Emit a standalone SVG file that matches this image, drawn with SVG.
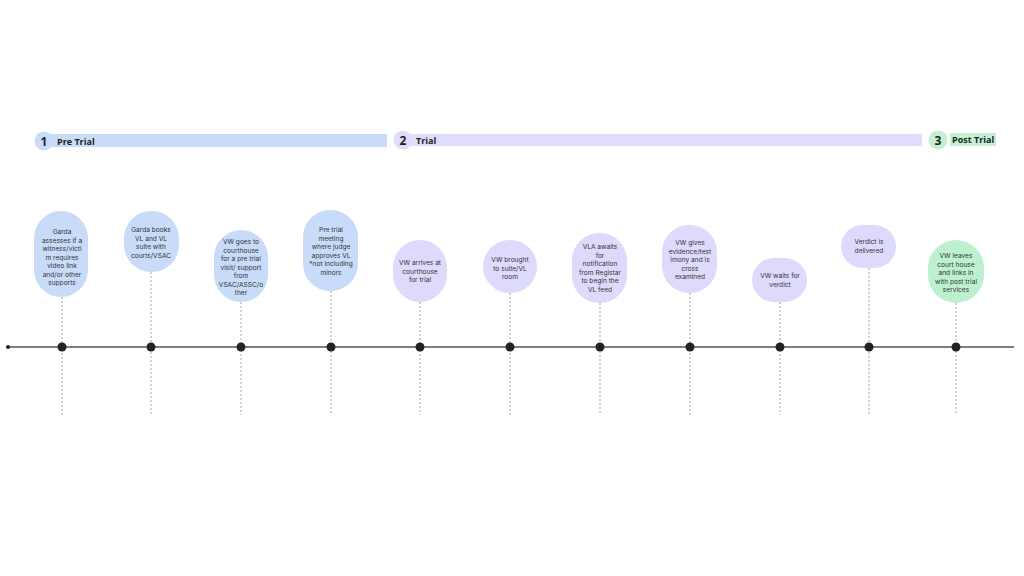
<svg xmlns="http://www.w3.org/2000/svg" width="1024" height="576" viewBox="0 0 1024 576">
<style>
.nb{fill:#c8dcf9}
.np{fill:#dedafb}
.ng{fill:#bdf0cf}
.t{font-family:Inter,"Noto Sans",sans-serif;font-size:6.6px;fill:#333;text-anchor:middle}
.h{font-family:"Open Sans","Noto Sans",sans-serif;font-weight:bold;fill:#222}
.dash{stroke:#9a9a9a;stroke-width:0.9;stroke-dasharray:2 2;fill:none}
.dot{fill:#222}
</style>
<rect width="1024" height="576" fill="#fff"/>
<g id="phases">
<g id="phase1">
<rect x="46" y="134" width="341" height="13" fill="#c8dcf9"/>
<circle cx="44" cy="141" r="9.5" fill="#c8dcf9"/>
<text class="h" x="44" y="145.5" font-size="12" text-anchor="middle">1</text>
<text class="h" x="57" y="144.5" font-size="9">Pre Trial</text>
</g>
<g id="phase2">
<rect x="404" y="134" width="518" height="12" fill="#e0dcfb"/>
<circle cx="403" cy="140" r="9.5" fill="#e0dcfb"/>
<text class="h" x="403" y="144.5" font-size="12" text-anchor="middle">2</text>
<text class="h" x="416" y="143.5" font-size="9">Trial</text>
</g>
<g id="phase3">
<rect x="950" y="133" width="46" height="13" fill="#c3f0d3"/>
<circle cx="938" cy="140" r="9.5" fill="#c3f0d3"/>
<text class="h" x="938" y="144.5" font-size="12" text-anchor="middle">3</text>
<text class="h" x="952" y="143" font-size="9">Post Trial</text>
</g>
</g>
<g id="connectors">
<line x1="8" y1="347" x2="1014" y2="347" stroke="#555" stroke-width="1.4"/>
<circle cx="8" cy="347" r="2" class="dot"/>
<line class="dash" x1="62" y1="297" x2="62" y2="415"/>
<line class="dash" x1="151" y1="272" x2="151" y2="415"/>
<line class="dash" x1="241" y1="302" x2="241" y2="415"/>
<line class="dash" x1="331" y1="291" x2="331" y2="415"/>
<line class="dash" x1="420" y1="302" x2="420" y2="415"/>
<line class="dash" x1="510" y1="293" x2="510" y2="415"/>
<line class="dash" x1="600" y1="303" x2="600" y2="415"/>
<line class="dash" x1="690" y1="293" x2="690" y2="415"/>
<line class="dash" x1="780" y1="302" x2="780" y2="415"/>
<line class="dash" x1="869" y1="268" x2="869" y2="415"/>
<line class="dash" x1="956" y1="303" x2="956" y2="415"/>
<circle cx="62" cy="347" r="4.5" class="dot"/>
<circle cx="151" cy="347" r="4.5" class="dot"/>
<circle cx="241" cy="347" r="4.5" class="dot"/>
<circle cx="331" cy="347" r="4.5" class="dot"/>
<circle cx="420" cy="347" r="4.5" class="dot"/>
<circle cx="510" cy="347" r="4.5" class="dot"/>
<circle cx="600" cy="347" r="4.5" class="dot"/>
<circle cx="690" cy="347" r="4.5" class="dot"/>
<circle cx="780" cy="347" r="4.5" class="dot"/>
<circle cx="869" cy="347" r="4.5" class="dot"/>
<circle cx="956" cy="347" r="4.5" class="dot"/>
</g>
<g id="n1">
<rect class="nb" x="34" y="211" width="54" height="86" rx="27"/>
<text class="t"><tspan x="62" y="234">Garda</tspan><tspan x="62" y="242.5">assesses if a</tspan><tspan x="62" y="251">witness/victi</tspan><tspan x="62" y="259.5">m requires</tspan><tspan x="62" y="268">video link</tspan><tspan x="62" y="276.5">and/or other</tspan><tspan x="62" y="285">supports</tspan></text>
</g>
<g id="n2">
<rect class="nb" x="124" y="211" width="55" height="61" rx="27"/>
<text class="t"><tspan x="151" y="232">Garda books</tspan><tspan x="151" y="240.5">VL and VL</tspan><tspan x="151" y="249">suite with</tspan><tspan x="151" y="257.5">courts/VSAC</tspan></text>
</g>
<g id="n3">
<rect class="nb" x="214" y="230" width="54" height="72" rx="27"/>
<text class="t"><tspan x="241" y="244">VW goes to</tspan><tspan x="241" y="252.5">courthouse</tspan><tspan x="241" y="261">for a pre trial</tspan><tspan x="241" y="269.5">visit/ support</tspan><tspan x="241" y="278">from</tspan><tspan x="241" y="286.5">VSAC/ASSC/o</tspan><tspan x="241" y="295">ther</tspan></text>
</g>
<g id="n4">
<rect class="nb" x="303" y="210" width="55" height="81" rx="27"/>
<text class="t"><tspan x="331" y="232">Pre trial</tspan><tspan x="331" y="240.5">meeting</tspan><tspan x="331" y="249">where judge</tspan><tspan x="331" y="257.5">approves VL</tspan><tspan x="331" y="266">*not including</tspan><tspan x="331" y="274.5">minors</tspan></text>
</g>
<g id="n5">
<rect class="np" x="393" y="240" width="54" height="62" rx="27"/>
<text class="t"><tspan x="420" y="265">VW arrives at</tspan><tspan x="420" y="273.5">courthouse</tspan><tspan x="420" y="282">for trial</tspan></text>
</g>
<g id="n6">
<rect class="np" x="483" y="240" width="54" height="53" rx="26.5"/>
<text class="t"><tspan x="510" y="262">VW brought</tspan><tspan x="510" y="270.5">to suite/VL</tspan><tspan x="510" y="279">room</tspan></text>
</g>
<g id="n7">
<rect class="np" x="572" y="233" width="55" height="70" rx="27"/>
<text class="t"><tspan x="600" y="249">VLA awaits</tspan><tspan x="600" y="257.5">for</tspan><tspan x="600" y="266">notification</tspan><tspan x="600" y="274.5">from Registar</tspan><tspan x="600" y="283">to begin the</tspan><tspan x="600" y="291.5">VL feed</tspan></text>
</g>
<g id="n8">
<rect class="np" x="662" y="225" width="55" height="68" rx="27"/>
<text class="t"><tspan x="690" y="245">VW gives</tspan><tspan x="690" y="253.5">evidence/test</tspan><tspan x="690" y="262">imony and is</tspan><tspan x="690" y="270.5">cross</tspan><tspan x="690" y="279">examined</tspan></text>
</g>
<g id="n9">
<rect class="np" x="752" y="258" width="55" height="44" rx="22"/>
<text class="t"><tspan x="780" y="278">VW waits for</tspan><tspan x="780" y="286.5">verdict</tspan></text>
</g>
<g id="n10">
<rect class="np" x="841" y="225" width="55" height="43" rx="21.5"/>
<text class="t"><tspan x="869" y="244">Verdict is</tspan><tspan x="869" y="252.5">delivered</tspan></text>
</g>
<g id="n11">
<rect class="ng" x="928" y="240" width="56" height="63" rx="28"/>
<text class="t"><tspan x="956" y="258">VW leaves</tspan><tspan x="956" y="266.5">court house</tspan><tspan x="956" y="275">and links in</tspan><tspan x="956" y="283.5">with post trial</tspan><tspan x="956" y="292">services</tspan></text>
</g>
</svg>
